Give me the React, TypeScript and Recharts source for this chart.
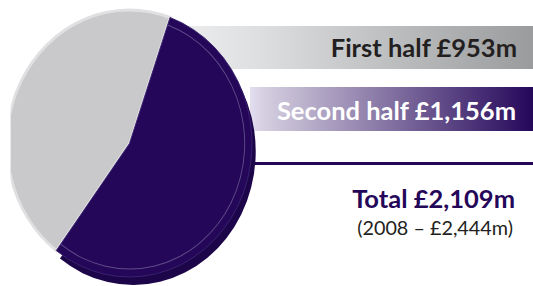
import React from 'react';
import { PieChart, Pie, Cell } from 'recharts';

const categories = ['First half', 'Second half'];
const values = [953, 1156];
const totalLabel = 'Total £2,109m';
const priorLabel = '(2008 – £2,444m)';
const sliceLabels = ['First half £953m', 'Second half £1,156m'];

const faceColors = ['#c9c9cb', '#25075a'];
const depthColors = ['transparent', '#1d0549'];

const data = categories.map((name, i) => ({ name, value: values[i] }));

const total = values.reduce((a, b) => a + b, 0);
const greyAngle = (values[0] / total) * 360;
const greyMid = 152;
const startAngle = greyMid - greyAngle / 2;

const W = 533;
const H = 286;

export default function App() {
  return (
    <div style={{ position: 'absolute', left: 0, top: 0, width: W, height: H, background: '#fff', overflow: 'hidden' }}>
      <svg width={W} height={H} style={{ position: 'absolute', left: 0, top: 0 }}>
        <defs>
          <linearGradient id="g1" x1="0" y1="0" x2="1" y2="0">
            <stop offset="0" stopColor="#f4f4f5" />
            <stop offset="0.3" stopColor="#dedfe0" />
            <stop offset="1" stopColor="#9a9b9d" />
          </linearGradient>
          <linearGradient id="g2" x1="0" y1="0" x2="1" y2="0">
            <stop offset="0" stopColor="#e2def0" />
            <stop offset="0.05" stopColor="#d5cfe0" />
            <stop offset="1" stopColor="#25075a" />
          </linearGradient>
        </defs>
        <rect x={140} y={26} width={W - 140} height={43} fill="url(#g1)" />
        <rect x={250} y={87} width={W - 250} height={44} fill="url(#g2)" />
        <rect x={250} y={162} width={W - 250} height={3} fill="#25075a" />
      </svg>
      <div
        style={{
          position: 'absolute',
          left: 0,
          top: 0,
          transform: 'scaleX(0.918)',
          transformOrigin: '129.5px 143.5px',
        }}
      >
        <PieChart width={W} height={H} margin={{ top: 0, right: 0, bottom: 0, left: 0 }}>
          <Pie
            data={data}
            dataKey="value"
            cx={133.5}
            cy={151.5}
            outerRadius={133.5}
            startAngle={startAngle}
            endAngle={startAngle + 360}
            stroke="none"
            isAnimationActive={false}
          >
            {data.map((d, i) => (
              <Cell key={d.name} fill={depthColors[i]} />
            ))}
          </Pie>
          <Pie
            data={data}
            dataKey="value"
            cx={129.5}
            cy={143.5}
            outerRadius={133.5}
            startAngle={startAngle}
            endAngle={startAngle + 360}
            isAnimationActive={false}
          >
            {data.map((d, i) => (
              <Cell
                key={d.name}
                fill={faceColors[i]}
                stroke={i === 0 ? '#e0e0e2' : '#3a2470'}
                strokeWidth={i === 0 ? 3 : 1}
              />
            ))}
          </Pie>
          <Pie
            data={data}
            dataKey="value"
            cx={129.5}
            cy={143.5}
            innerRadius={125}
            outerRadius={126}
            startAngle={startAngle}
            endAngle={startAngle + 360}
            stroke="none"
            isAnimationActive={false}
          >
            {data.map((d, i) => (
              <Cell key={d.name} fill={i === 0 ? 'transparent' : '#5e4d88'} />
            ))}
          </Pie>
        </PieChart>
      </div>
      <svg width={W} height={H} style={{ position: 'absolute', left: 0, top: 0 }}>
        <text x={517} y={57} textAnchor="end" fontFamily="Lato" fontWeight={700} fontSize={25.5} fill="#231f20">
          {sliceLabels[0]}
        </text>
        <text x={516} y={120} textAnchor="end" fontFamily="Lato" fontWeight={700} fontSize={25.5} fill="#ffffff">
          {sliceLabels[1]}
        </text>
        <text x={515} y={208} textAnchor="end" fontFamily="Lato" fontWeight={700} fontSize={25.5} fill="#25075a">
          {totalLabel}
        </text>
        <text x={513} y={235} textAnchor="end" fontFamily="Lato" fontWeight={400} fontSize={19.8} fill="#231f20">
          {priorLabel}
        </text>
      </svg>
    </div>
  );
}
